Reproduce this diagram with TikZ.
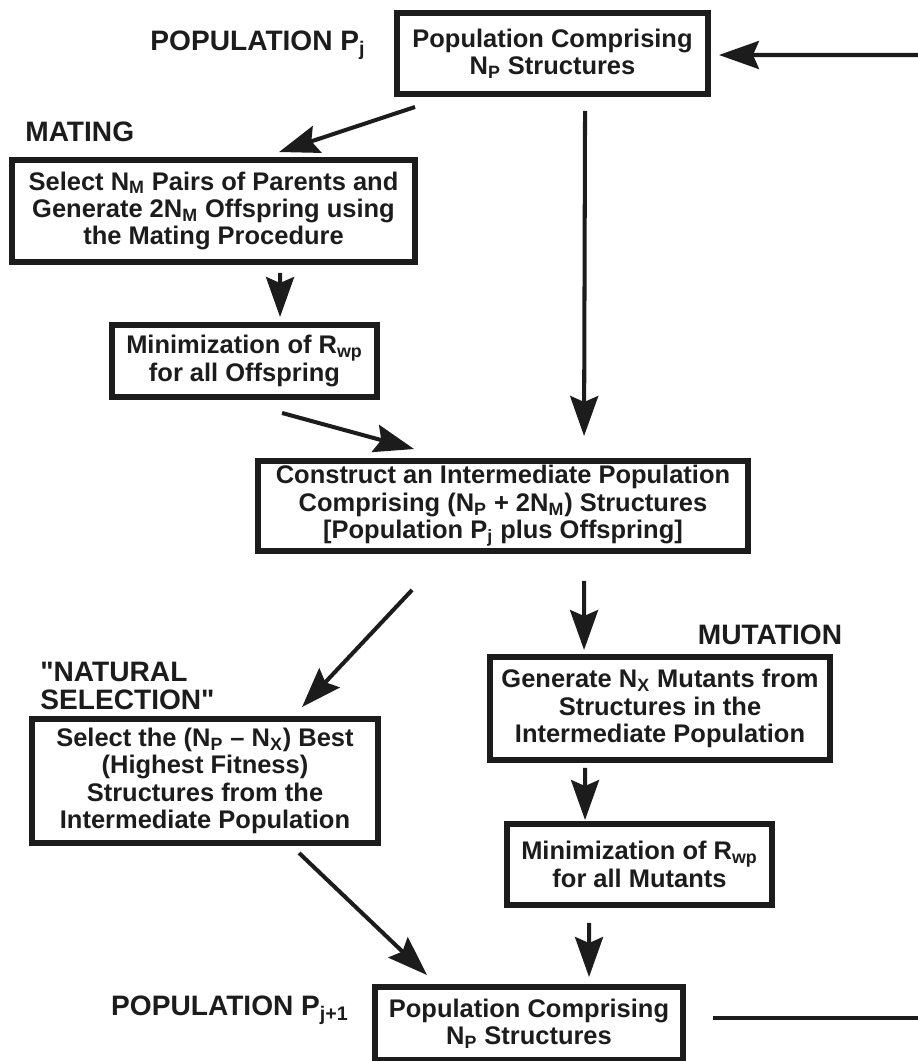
\documentclass[tikz,border=0pt]{standalone}
\usepackage{fontspec}
\setmainfont{Liberation Sans}[Ligatures=TeXOff]
\usetikzlibrary{arrows.meta,positioning}
\definecolor{inkblack}{RGB}{28,28,28}

\begin{document}
\begin{tikzpicture}[x=0.02cm, y=-0.02cm,
    stepbox/.style={rectangle, draw=inkblack, line width=3.4pt, inner sep=0pt, align=center, text=inkblack, font=\fontsize{14.5}{15.6}\selectfont\bfseries},
    tag/.style={inner sep=0pt, text=inkblack, font=\fontsize{16}{16}\selectfont\bfseries},
    arrow/.style={-{Stealth[length=0.8cm, width=0.56cm, inset=0.12cm]}, line width=2.3pt, draw=inkblack},
    link/.style={line width=2.3pt, draw=inkblack}
  ]
    \useasboundingbox (0,0) rectangle (918,1061);

    % Population P_j
    \node[stepbox, minimum width=6.22cm, minimum height=1.62cm] (top) at (552.5,53.5) {Population Comprising\\N\textsubscript{P} Structures};
    \node[tag] (popj) at (258,45) {POPULATION P\textsubscript{j}};

    % Mating branch
    \node[tag, anchor=west] (matingtag) at (25,132) {MATING};
    \node[stepbox, minimum width=8.06cm, minimum height=2.04cm] (mating) at (213.5,211) {Select N\textsubscript{M} Pairs of Parents and\\Generate 2N\textsubscript{M} Offspring using\\the Mating Procedure};
    \node[stepbox, minimum width=5.3cm, minimum height=1.44cm] (minoff) at (244.5,361) {Minimization of R\textsubscript{wp}\\for all Offspring};

    % Intermediate population
    \node[stepbox, minimum width=9.8cm, minimum height=1.8cm] (inter) at (503,506) {Construct an Intermediate Population\\Comprising (N\textsubscript{P} + 2N\textsubscript{M}) Structures\\{[}Population P\textsubscript{j} plus Offspring{]}};

    % Natural selection branch
    \node[tag, anchor=west, align=left] (seltag) at (40,686) {"NATURAL\\SELECTION"};
    \node[stepbox, minimum width=6.92cm, minimum height=2.48cm] (select) at (205,781) {Select the (N\textsubscript{P} – N\textsubscript{X}) Best\\(Highest Fitness)\\Structures from the\\Intermediate Population};

    % Mutation branch
    \node[tag] (muttag) at (770,635) {MUTATION};
    \node[stepbox, minimum width=6.8cm, minimum height=2.06cm] (mutate) at (660,708.5) {Generate N\textsubscript{X} Mutants from\\Structures in the\\Intermediate Population};
    \node[stepbox, minimum width=5.3cm, minimum height=1.62cm] (minmut) at (639.5,864.5) {Minimization of R\textsubscript{wp}\\for all Mutants};

    % Population P_j+1
    \node[stepbox, minimum width=6.16cm, minimum height=1.46cm] (bottom) at (529,1023.5) {Population Comprising\\N\textsubscript{P} Structures};
    \node[tag] (popj1) at (230,1010) {POPULATION P\textsubscript{j+1}};

    % Connections
    \draw[arrow] ([shift={(21,10)}]top.south west) -- ([shift={(270,-5)}]mating.north west);
    \draw[arrow] ([shift={(271,8)}]mating.south west) -- ([shift={(171,-5)}]minoff.north west);
    \draw[arrow] ([shift={(173,13)}]minoff.south west) -- ([shift={(159,-9)}]inter.north west);
    \draw[arrow] ([shift={(191,14)}]top.south west) -- ([shift={(329,-22)}]inter.north west);
    \draw[arrow] ([shift={(157,36)}]inter.south west) -- ([shift={(273,-9)}]select.north west);
    \draw[arrow] ([shift={(329,27)}]inter.south west) -- ([shift={(97,-4)}]mutate.north west);
    \draw[arrow] ([shift={(98,5)}]mutate.south west) -- ([shift={(81,-1)}]minmut.north west);
    \draw[arrow] ([shift={(270,7)}]select.south west) -- ([shift={(55,-9)}]bottom.north west);
    \draw[arrow] ([shift={(85,15)}]minmut.south west) -- ([shift={(217,-7)}]bottom.north west);

    % Feedback to the next generation
    \coordinate (fbbot) at (918,1018);
    \coordinate (fbtop) at (918,55);
    \draw[link] ([shift={(27,-5.5)}]bottom.east) -- (fbbot);
    \draw[arrow] (fbtop) -- ([shift={(8,1.5)}]top.east);
  \end{tikzpicture}
\end{document}
